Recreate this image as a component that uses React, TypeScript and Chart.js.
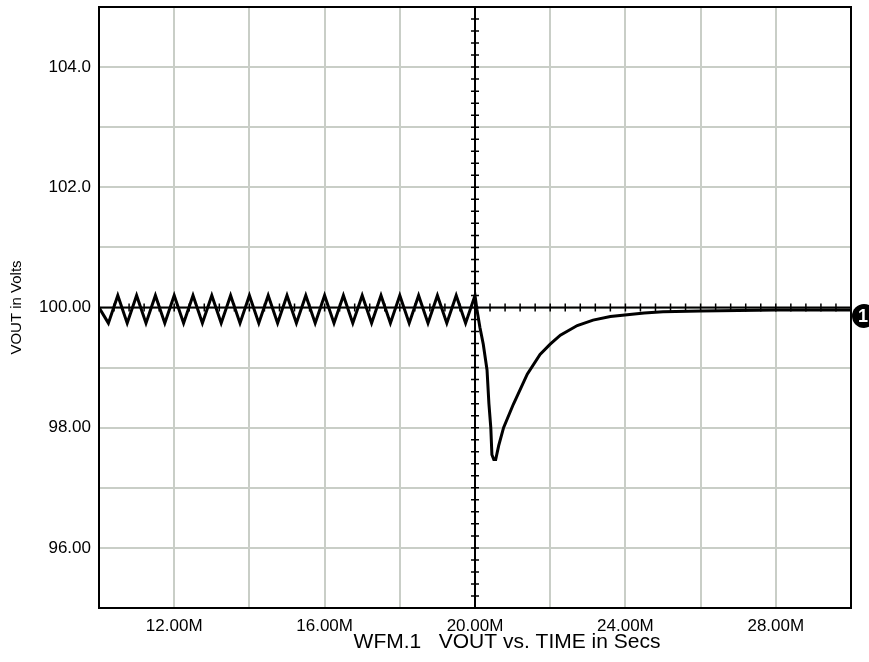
import React, { useEffect, useRef } from 'react';
import { Chart, registerables } from 'chart.js';

Chart.register(...registerables);

const FONT = '"Liberation Sans", Arial, Helvetica, sans-serif';

// Ripple before the load step (time in M-units, volts)
const rippleTime = [
  10.0, 10.25, 10.5, 10.75, 11.0, 11.25, 11.5, 11.75, 12.0, 12.25, 12.5, 12.75,
  13.0, 13.25, 13.5, 13.75, 14.0, 14.25, 14.5, 14.75, 15.0, 15.25, 15.5, 15.75,
  16.0, 16.25, 16.5, 16.75, 17.0, 17.25, 17.5, 17.75, 18.0, 18.25, 18.5, 18.75,
  19.0, 19.25, 19.5, 19.75, 20.0,
];
const rippleVolts = [
  100.0, 99.74, 100.2, 99.74, 100.2, 99.74, 100.2, 99.74, 100.2, 99.74, 100.2, 99.74,
  100.2, 99.74, 100.2, 99.74, 100.2, 99.74, 100.2, 99.74, 100.2, 99.74, 100.2, 99.74,
  100.2, 99.74, 100.2, 99.74, 100.2, 99.74, 100.2, 99.74, 100.2, 99.74, 100.2, 99.74,
  100.2, 99.74, 100.2, 99.74, 100.2,
];

// Transient response after the step
const stepTime = [
  20.05, 20.13, 20.22, 20.32, 20.37, 20.42, 20.45, 20.5, 20.55, 20.63, 20.76,
  21.02, 21.39, 21.73, 22.0, 22.27, 22.72, 23.14, 23.6, 24.05, 24.5, 25.0,
  26.0, 27.0, 28.0, 30.0,
];
const stepVolts = [
  99.97, 99.67, 99.39, 98.96, 98.4, 98.0, 97.55, 97.47, 97.47, 97.7, 98.0,
  98.39, 98.89, 99.22, 99.39, 99.54, 99.7, 99.79, 99.85, 99.88, 99.91, 99.93,
  99.94, 99.95, 99.96, 99.96,
];

const xTickValues = [12, 16, 20, 24, 28];
const xTickLabels = ['12.00M', '16.00M', '20.00M', '24.00M', '28.00M'];
const yTickValues = [96, 98, 100, 102, 104];
const yTickLabels = ['96.00', '98.00', '100.00', '102.0', '104.0'];

const xTitle = 'WFM.1   VOUT vs. TIME in Secs';
const yTitle = 'VOUT in Volts';
const crossX = 20;
const crossY = 100;
const markerLabel = '1';

const overlay = {
  id: 'overlay',
  beforeDatasetsDraw(chart: any) {
    const { ctx, chartArea: a, scales } = chart;
    const xs = scales.x;
    const ys = scales.y;
    const cx = xs.getPixelForValue(crossX);
    const cy = ys.getPixelForValue(crossY);
    ctx.save();
    ctx.strokeStyle = '#000';
    ctx.lineWidth = 2;
    ctx.beginPath();
    ctx.moveTo(cx, a.top);
    ctx.lineTo(cx, a.bottom);
    ctx.moveTo(a.left, cy);
    ctx.lineTo(a.right, cy);
    ctx.stroke();
    ctx.lineWidth = 1.5;
    ctx.beginPath();
    for (let k = -30; k <= 30; k++) {
      const v = crossX + k * 0.4;
      if (v <= xs.min + 0.01 || v >= xs.max - 0.01) continue;
      const px = xs.getPixelForValue(v);
      ctx.moveTo(px, cy - 4);
      ctx.lineTo(px, cy + 4);
    }
    for (let k = -30; k <= 30; k++) {
      const v = crossY + k * 0.2;
      if (v <= ys.min + 0.01 || v >= ys.max - 0.01) continue;
      const py = ys.getPixelForValue(v);
      ctx.moveTo(cx - 4, py);
      ctx.lineTo(cx + 4, py);
    }
    ctx.stroke();
    ctx.restore();
  },
  afterDraw(chart: any) {
    const { ctx, chartArea: a, scales } = chart;
    ctx.save();
    ctx.strokeStyle = '#000';
    ctx.lineWidth = 2;
    ctx.strokeRect(a.left, a.top, a.right - a.left, a.bottom - a.top);
    // x-axis caption
    ctx.fillStyle = '#000';
    ctx.font = `21px ${FONT}`;
    ctx.textAlign = 'center';
    ctx.textBaseline = 'middle';
    ctx.fillText(xTitle, (a.left + a.right) / 2 + 32, a.bottom + 34);
    // marker
    const last = stepVolts[stepVolts.length - 1];
    const mx = a.right + 13;
    const my = scales.y.getPixelForValue(last) + 6;
    ctx.beginPath();
    ctx.arc(mx, my, 12, 0, Math.PI * 2);
    ctx.fill();
    ctx.fillStyle = '#fff';
    ctx.font = `bold 18px ${FONT}`;
    ctx.fillText(markerLabel, mx - 1, my + 1);
    ctx.restore();
  },
};

export default function App() {
  const ref = useRef<HTMLCanvasElement>(null);
  useEffect(() => {
    const data = [
      ...rippleTime.map((t, i) => ({ x: t, y: rippleVolts[i] })),
      ...stepTime.map((t, i) => ({ x: t, y: stepVolts[i] })),
    ];
    const chart = new Chart(ref.current!, {
      type: 'line',
      data: {
        datasets: [
          {
            data,
            borderColor: '#000',
            borderWidth: 3,
            pointRadius: 0,
            tension: 0,
            fill: false,
          },
        ],
      },
      options: {
        animation: false,
        responsive: false,
        events: [],
        layout: { padding: { top: 7, right: 18, left: 0, bottom: 0 } },
        plugins: { legend: { display: false }, tooltip: { enabled: false } },
        scales: {
          x: {
            type: 'linear',
            min: 10,
            max: 30,
            afterFit: (s: any) => {
              s.height = 54;
              s.paddingLeft = 0;
              s.paddingRight = 0;
            },
            border: { display: false },
            grid: { color: '#c9cec7', lineWidth: 2, drawTicks: false },
            ticks: {
              stepSize: 2,
              autoSkip: false,
              maxRotation: 0,
              padding: 8,
              color: '#000',
              font: { family: FONT, size: 17 },
              callback: (v: any) => {
                const i = xTickValues.indexOf(Number(v));
                return i >= 0 ? xTickLabels[i] : '';
              },
            },
          },
          y: {
            type: 'linear',
            min: 95,
            max: 105,
            afterFit: (s: any) => {
              s.width = 99;
              s.paddingTop = 0;
              s.paddingBottom = 0;
            },
            border: { display: false },
            grid: { color: '#c9cec7', lineWidth: 2, drawTicks: false },
            ticks: {
              stepSize: 1,
              autoSkip: false,
              padding: 8,
              color: '#000',
              font: { family: FONT, size: 17 },
              callback: (v: any) => {
                const i = yTickValues.indexOf(Number(v));
                return i >= 0 ? yTickLabels[i] : '';
              },
            },
            title: {
              display: true,
              text: yTitle,
              color: '#000',
              font: { family: FONT, size: 15 },
              padding: { top: 8, bottom: 0 },
            },
          },
        },
      },
      plugins: [overlay],
    } as any);
    return () => chart.destroy();
  }, []);
  return (
    <div style={{ position: 'fixed', left: 0, top: 0, width: 869, height: 662, background: '#fff' }}>
      <canvas ref={ref} width={869} height={662} style={{ width: 869, height: 662 }} />
    </div>
  );
}
